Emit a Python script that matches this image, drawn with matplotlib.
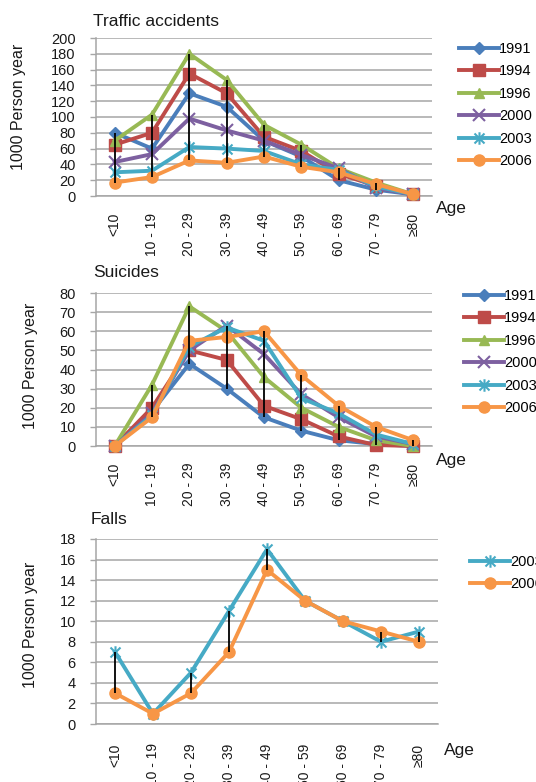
import matplotlib
matplotlib.use('Agg')
import matplotlib.pyplot as plt
import numpy as np
from matplotlib.path import Path

plt.rcParams['font.family'] = ['Liberation Sans', 'DejaVu Sans']

age_groups = ['<10', '10 - 19', '20 - 29', '30 - 39', '40 - 49', '50 - 59', '60 - 69', '70 - 79', '≥80']

# Traffic accidents
traffic_1991 = [80, 60, 130, 113, 70, 50, 20, 8, 2]
traffic_1994 = [65, 80, 155, 130, 75, 57, 28, 13, 2]
traffic_1996 = [70, 103, 180, 147, 90, 65, 35, 17, 2]
traffic_2000 = [43, 53, 98, 83, 70, 52, 35, 10, 2]
traffic_2003 = [30, 32, 62, 60, 57, 40, 33, 12, 2]
traffic_2006 = [17, 24, 45, 42, 50, 37, 30, 15, 2]

# Suicides
suicide_1991 = [0, 18, 43, 30, 15, 8, 3, 1, 0]
suicide_1994 = [0, 20, 50, 45, 21, 14, 5, 0.5, 0]
suicide_1996 = [0, 32, 73, 60, 36, 20, 10, 3, 0]
suicide_2000 = [0, 17, 50, 63, 48, 27, 15, 5, 1]
suicide_2003 = [0, 16, 52, 62, 55, 25, 17, 6, 1]
suicide_2006 = [0, 15, 55, 57, 60, 37, 21, 10, 3]

# Falls
falls_2003 = [7, 1, 5, 11, 17, 12, 10, 8, 9]
falls_2006 = [3, 1, 3, 7, 15, 12, 10, 9, 8]

years = ['1991', '1994', '1996', '2000', '2003', '2006']
colors = {'1991': '#4A7EBB', '1994': '#BE4B48', '1996': '#98B954',
          '2000': '#7D60A0', '2003': '#46AAC5', '2006': '#F79646'}
star = Path([(0, -1), (0, 1), (-0.8, -0.8), (0.8, 0.8), (-0.8, 0.8), (0.8, -0.8)],
            [Path.MOVETO, Path.LINETO, Path.MOVETO, Path.LINETO, Path.MOVETO, Path.LINETO])
markers = {'1991': ('D', 6.5), '1994': ('s', 8), '1996': ('^', 7.5),
           '2000': ('x', 8), '2003': (star, 9), '2006': ('o', 8)}

W, H = 536, 782
fig = plt.figure(figsize=(W / 100, H / 100), dpi=100)

grid_c = '#A6A6A6'
txt_c = '#1A1A1A'


def make_axes(left, top, right, bottom):
    return fig.add_axes([left / W, 1 - bottom / H, (right - left) / W, (bottom - top) / H])


def style(ax, ymax, ystep, title, title_xy, label_xy, age_xy, xpad):
    ax.set_xlim(-0.5, len(age_groups) - 0.5)
    ax.set_ylim(0, ymax)
    ax.set_yticks(np.arange(0, ymax + 0.1, ystep))
    ax.set_xticks(range(len(age_groups)))
    ax.set_xticklabels(age_groups, rotation=90, fontsize=10, color=txt_c)
    ax.tick_params(axis='x', length=0, pad=xpad)
    ax.tick_params(axis='y', length=4.5, width=1, color=grid_c, pad=10, labelsize=10.5, labelcolor=txt_c)
    ax.yaxis.grid(True, color=grid_c, lw=1.1)
    ax.set_axisbelow(True)
    for s in ['top', 'right']:
        ax.spines[s].set_visible(False)
    ax.spines['left'].set_color(grid_c)
    ax.spines['bottom'].set_color(grid_c)
    ax.spines['left'].set_linewidth(1.1)
    ax.spines['bottom'].set_linewidth(1.1)
    fig.text(title_xy[0] / W, 1 - title_xy[1] / H, title, fontsize=12.5, color=txt_c,
             ha='left', va='center')
    fig.text(label_xy[0] / W, 1 - label_xy[1] / H, '1000 Person year', fontsize=11.5,
             color=txt_c, rotation=90, ha='center', va='center')
    fig.text(age_xy[0] / W, 1 - age_xy[1] / H, 'Age', fontsize=12.5, color=txt_c,
             ha='left', va='center')


def plot_series(ax, series, legend_xy):
    x = np.arange(len(age_groups))
    for yr, vals in series:
        m, ms = markers[yr]
        ax.plot(x, vals, color=colors[yr], lw=2.8, marker=m, ms=ms,
                mec=colors[yr], mfc=colors[yr], mew=1.5 if m in ('x',) or m is star else 1,
                label=yr, zorder=3, clip_on=False)
    arr = np.array([v for _, v in series])
    ax.vlines(x, arr.min(axis=0), arr.max(axis=0), color='black', lw=1.3, zorder=5)
    ax.legend(loc='upper left', bbox_to_anchor=(legend_xy[0] / W, 1 - legend_xy[1] / H),
              bbox_transform=fig.transFigure, frameon=False, fontsize=10.5,
              handlelength=2.75, handletextpad=0.0, labelspacing=0.58,
              borderpad=0, borderaxespad=0)


# Traffic accidents
ax1 = make_axes(96, 38, 432, 196)
style(ax1, 200, 20, 'Traffic accidents', (93, 22), (19, 107), (436, 208), 12)
plot_series(ax1, list(zip(years, [traffic_1991, traffic_1994, traffic_1996,
                                  traffic_2000, traffic_2003, traffic_2006])), (459, 42))

# Suicides
ax2 = make_axes(96, 293, 432, 446)
style(ax2, 80, 10, 'Suicides', (93, 273), (30, 366), (436, 460), 12)
plot_series(ax2, list(zip(years, [suicide_1991, suicide_1994, suicide_1996,
                                  suicide_2000, suicide_2003, suicide_2006])), (464, 289))

# Falls
ax3 = make_axes(96, 539, 438, 724)
style(ax3, 18, 2, 'Falls', (91, 520), (30, 625), (444, 751), 14)
plot_series(ax3, list(zip(['2003', '2006'], [falls_2003, falls_2006])), (470, 555))

fig.savefig('out.png', dpi=100)
